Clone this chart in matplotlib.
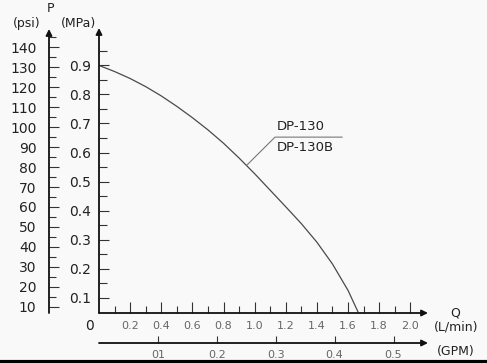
import matplotlib
matplotlib.use("Agg")
import matplotlib.pyplot as plt
from matplotlib.lines import Line2D

# pump curve DP-130 / DP-130B
flow_lpm = [0, 0.1, 0.2, 0.3, 0.4, 0.5, 0.6, 0.7, 0.8, 0.9, 1.0, 1.1, 1.2,
            1.3, 1.4, 1.5, 1.6, 1.665]
pres_mpa = [0.900, 0.879, 0.855, 0.827, 0.795, 0.759, 0.720, 0.678, 0.632,
            0.581, 0.527, 0.470, 0.413, 0.355, 0.291, 0.216, 0.125, 0.050]

mpa_ticks = [0.1, 0.2, 0.3, 0.4, 0.5, 0.6, 0.7, 0.8, 0.9]
psi_ticks = [10, 20, 30, 40, 50, 60, 70, 80, 90, 100, 110, 120, 130, 140]
lpm_ticks = [0.2, 0.4, 0.6, 0.8, 1.0, 1.2, 1.4, 1.6, 1.8, 2.0]
gpm_ticks = [0.1, 0.2, 0.3, 0.4, 0.5]
gpm_labels = ["01", "0.2", "0.3", "0.4", "0.5"]
model_names = ["DP-130", "DP-130B"]

W, H = 487, 363
bg = "#f9f9f9"
txt = "#222222"
PSI_PER_MPA = 145.04
LPM_PER_GPM = 3.785

fig = plt.figure(figsize=(W / 100, H / 100), dpi=100, facecolor=bg)


def fx(px):
    return px / W


def fy(py):
    return 1 - py / H


x0, x1 = 0, 2.114
y0, y1 = 0.047, 1.029
left, bottom = fx(99), fy(313)
width, height = fx(428) - fx(99), fy(28) - fy(313)


def arrow(ax, a, b):
    ax.annotate("", xy=b, xytext=a, xycoords="axes fraction",
                arrowprops=dict(arrowstyle="-|>", color="#111111", lw=1.3,
                                mutation_scale=9, shrinkA=0, shrinkB=0),
                annotation_clip=False)


# main axes: L/min vs MPa
ax = fig.add_axes([left, bottom, width, height])
ax.set_facecolor("none")
ax.plot(flow_lpm, pres_mpa, color="#4a4a4a", lw=0.9)
ax.set_xlim(x0, x1)
ax.set_ylim(y0, y1)
for s in ax.spines.values():
    s.set_visible(False)
arrow(ax, (0, 0), (1, 0))
arrow(ax, (0, 0), (0, 1))
ax.set_xticks(lpm_ticks)
ax.set_xticklabels([f"{v:.1f}" for v in lpm_ticks])
ax.set_xticks([v / 10 for v in range(1, 21, 2)], minor=True)
ax.set_yticks(mpa_ticks)
ax.set_yticklabels([f"{v:.1f}" for v in mpa_ticks])
ax.set_yticks([v / 100 for v in range(15, 100, 10)], minor=True)
ax.tick_params(axis="x", which="major", direction="in", length=8, width=0.8,
               color="#333333", labelsize=8, labelcolor="#666666", pad=6)
ax.tick_params(axis="x", which="minor", direction="in", length=5, width=0.8,
               color="#333333")
ax.tick_params(axis="y", which="major", direction="in", length=7, width=0.8,
               color="#333333", labelsize=10, labelcolor=txt, pad=6)
ax.tick_params(axis="y", which="minor", direction="in", length=6, width=0.8,
               color="#333333")

# model label with leader line
ax.plot([0.951, 1.131, 1.562], [0.557, 0.653, 0.653], color="#777777", lw=0.8)
ax.text(1.14, 0.668, model_names[0], fontsize=9.5, color=txt, va="bottom")
ax.text(1.14, 0.638, model_names[1], fontsize=9.5, color=txt, va="top")

# psi axis
axp = fig.add_axes([fx(49), bottom, 0.0001, fy(28) - fy(312)])
axp.set_facecolor("none")
axp.set_ylim(y0 * PSI_PER_MPA, y1 * PSI_PER_MPA)
axp.set_xticks([])
for s in axp.spines.values():
    s.set_visible(False)
arrow(axp, (0, 0), (0, 1))
axp.set_yticks(psi_ticks)
axp.set_yticklabels([str(v) for v in psi_ticks])
axp.set_yticks(list(range(15, 150, 10)), minor=True)
axp.tick_params(axis="y", which="major", direction="in", length=7, width=0.8,
                color="#333333", labelsize=10, labelcolor=txt, pad=9)
axp.tick_params(axis="y", which="minor", direction="in", length=5, width=0.8,
                color="#333333")

# GPM axis
axg = fig.add_axes([left, fy(343), width, 0.0001])
axg.set_facecolor("none")
axg.set_xlim(x0 / LPM_PER_GPM, x1 / LPM_PER_GPM)
axg.set_yticks([])
for s in axg.spines.values():
    s.set_visible(False)
arrow(axg, (0, 0), (1, 0))
axg.set_xticks(gpm_ticks)
axg.set_xticklabels(gpm_labels)
axg.tick_params(axis="x", direction="in", length=5, width=0.8,
                color="#333333", labelsize=8, labelcolor="#666666", pad=5)

# axis captions
fig.text(fx(50), fy(9), "P", fontsize=9, color=txt, ha="center", va="center")
fig.text(fx(27), fy(23), "(psi)", fontsize=9, color=txt, ha="center", va="center")
fig.text(fx(78), fy(23), "(MPa)", fontsize=9, color=txt, ha="center", va="center")
fig.text(fx(89), fy(326), "0", fontsize=10, color=txt, ha="center", va="center")
fig.text(fx(455), fy(313), "Q", fontsize=9, color=txt, ha="center", va="center")
fig.text(fx(456), fy(327), "(L/min)", fontsize=9, color=txt, ha="center", va="center")
fig.text(fx(456), fy(352), "(GPM)", fontsize=9, color=txt, ha="center", va="center")

fig.add_artist(Line2D([0, 1], [fy(361.5), fy(361.5)], transform=fig.transFigure,
                      color="black", lw=3))

fig.savefig("out.png", dpi=100, facecolor=bg)
